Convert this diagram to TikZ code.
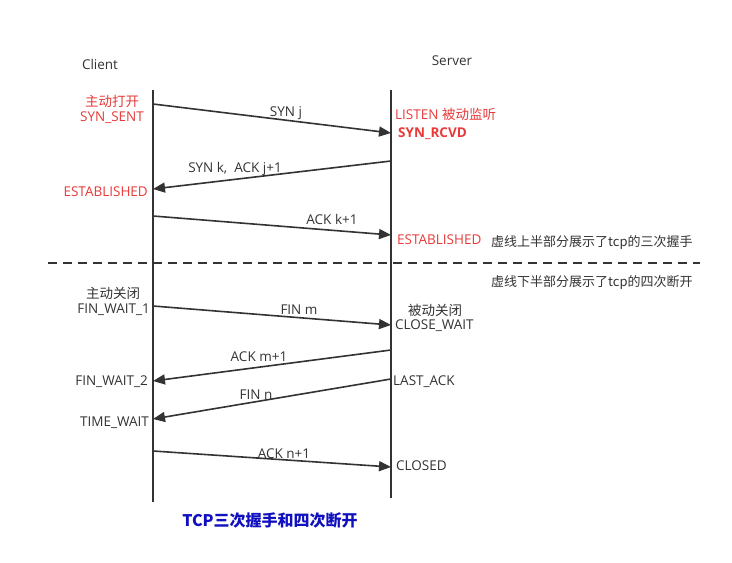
\documentclass[tikz,border=0pt]{standalone}
\usepackage{fontspec}
\setmainfont{Open Sans}
\newfontfamily\cjk{Noto Sans CJK SC}
\usetikzlibrary{arrows.meta}
\definecolor{ink}{HTML}{333333}
\definecolor{redtxt}{HTML}{E83A3A}
\definecolor{titleblue}{HTML}{1010C0}
\tikzset{
  life/.style={draw=ink, line width=2pt},
  msg/.style={draw=ink, line width=1.6pt, -{Triangle[length=12pt,width=10pt]}},
  lbl/.style={text=ink, font=\fontsize{13.5}{16}\selectfont, inner sep=0pt, yshift=-1.5pt},
  rlbl/.style={text=redtxt, font=\fontsize{13.5}{16}\selectfont, inner sep=0pt, yshift=-1.5pt},
  note/.style={text=ink, font=\fontsize{13}{15}\selectfont, inner sep=0pt},
}
\begin{document}
\begin{tikzpicture}[x=1pt,y=-1pt]
\useasboundingbox[fill=white] (0,0) rectangle (732,563);
% lifelines
\coordinate (ctop) at (153,90);
\coordinate (cbot) at (153,502);
\coordinate (stop) at (391,90);
\coordinate (sbot) at (391,498);
\draw[life] (ctop) -- (cbot);
\draw[life] (stop) -- (sbot);
% dashed separator
\coordinate (dl) at (48,263);
\coordinate (dr) at (700,263);
\draw[draw=ink, line width=1.6pt, dash pattern=on 9pt off 6pt] (dl) -- (dr);
% headers
\node[lbl, yshift=1.5pt] (client) at (100,64) {Client};
\node[lbl, yshift=1.5pt] (server) at (452,61) {Server};
% message end points
\coordinate (a1) at (153,104); \coordinate (b1) at (391,133);
\coordinate (a2) at (391,161); \coordinate (b2) at (153,189);
\coordinate (a3) at (153,216); \coordinate (b3) at (391,235);
\coordinate (a4) at (153,306); \coordinate (b4) at (391,325);
\coordinate (a5) at (391,350); \coordinate (b5) at (153,381);
\coordinate (a6) at (391,379); \coordinate (b6) at (153,419);
\coordinate (a7) at (153,451); \coordinate (b7) at (391,467);
\draw[msg] (a1) -- (b1);
\draw[msg] (a2) -- (b2);
\draw[msg] (a3) -- (b3);
\draw[msg] (a4) -- (b4);
\draw[msg] (a5) -- (b5);
\draw[msg] (a6) -- (b6);
\draw[msg] (a7) -- (b7);
% message labels
\node[lbl] (m1) at (286,112) {SYN j};
\node[lbl] (m2) at (235,167) {SYN k,\ \ ACK j+1};
\node[lbl] (m3) at (332,218) {ACK k+1};
\node[lbl] (m4) at (299,308) {FIN m};
\node[lbl] (m5) at (259,355) {ACK m+1};
\node[lbl] (m6) at (256,393) {FIN n};
\node[lbl] (m7) at (284,452) {ACK n+1};
% client states
\node[rlbl] (s1) at (112,100) {\cjk 主动打开};
\node[rlbl] (s2) at (112,116) {SYN\_SENT};
\node[rlbl, anchor=east] (s3) at (148,190) {ESTABLISHED};
\node[lbl] (s4) at (113,292) {\cjk 主动关闭};
\node[lbl, anchor=east] (s5) at (150,308) {FIN\_WAIT\_1};
\node[lbl, anchor=east] (s6) at (148,380) {FIN\_WAIT\_2};
\node[lbl, anchor=east] (s7) at (149,421) {TIME\_WAIT};
% server states
\node[rlbl, anchor=west] (r1) at (395,113) {LISTEN {\cjk 被动监听}};
\node[rlbl, anchor=west, font=\fontsize{13.5}{16}\selectfont\bfseries] (r2) at (398,132) {SYN\_RCVD};
\node[rlbl, anchor=west] (r3) at (397,238) {ESTABLISHED};
\node[lbl] (r4) at (435,309) {\cjk 被动关闭};
\node[lbl, anchor=west] (r5) at (395,324) {CLOSE\_WAIT};
\node[lbl, anchor=west] (r6) at (393,380) {LAST\_ACK};
\node[lbl, anchor=west] (r7) at (396,464) {CLOSED};
% notes
\node[note, anchor=west] (n1) at (491,242) {\cjk 虚线上半部分展示了tcp的三次握手};
\node[note, anchor=west] (n2) at (491,282) {\cjk 虚线下半部分展示了tcp的四次断开};
% title
\node[text=titleblue, font=\fontsize{16}{19}\selectfont\bfseries\cjk, inner sep=0pt] (title) at (270,520) {TCP三次握手和四次断开};
\end{tikzpicture}
\end{document}
